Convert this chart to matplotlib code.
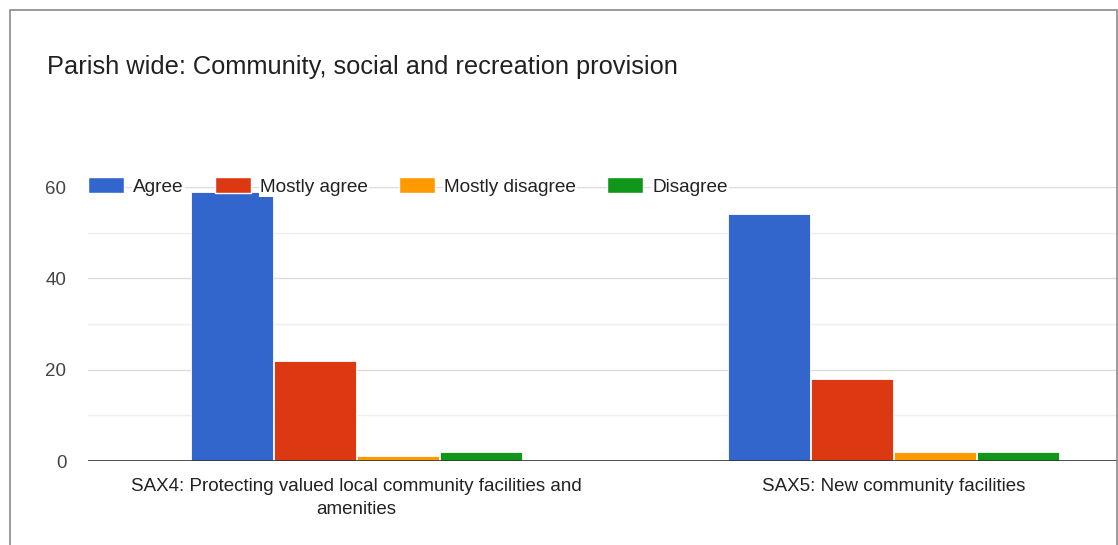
import matplotlib.pyplot as plt
from matplotlib.patches import Patch, Rectangle
from matplotlib.ticker import MultipleLocator

plt.rcParams['font.family'] = ['Liberation Sans', 'DejaVu Sans']

categories = ["SAX4: Protecting valued local community facilities and\namenities",
              "SAX5: New community facilities"]
series = ["Agree", "Mostly agree", "Mostly disagree", "Disagree"]
agree = [59, 54]
mostly_agree = [22, 18]
mostly_disagree = [1, 2]
disagree = [2, 2]
colors = ["#3366cc", "#dc3912", "#ff9900", "#109618"]

W, H = 1118, 545
fig = plt.figure(figsize=(W / 100, H / 100), dpi=100)

# card outline around the chart
fig.patches.append(Rectangle((10 / W, -0.05), 1107 / W, 1 - 10 / H + 0.05,
                             transform=fig.transFigure, fill=False,
                             edgecolor="#8a8a8a", linewidth=1.2))

fig.text(47 / W, 1 - 67 / H, "Parish wide: Community, social and recreation provision",
         fontsize=18.3, color="#202124", va="center", ha="left")

ax = fig.add_axes([88 / W, 84 / H, 1074 / W, 274 / H])
ax.set_xlim(-0.5, 1.5)
ax.set_ylim(0, 60)

values = [agree, mostly_agree, mostly_disagree, disagree]
step = 0.1546
bw = 0.153
x = range(len(categories))
for i, (vals, col) in enumerate(zip(values, colors)):
    offs = (i - 1.5) * step
    ax.bar([xi + offs for xi in x], vals, width=bw, color=col,
           edgecolor="white", linewidth=0.6, zorder=3)

for s in ax.spines.values():
    s.set_visible(False)
ax.axhline(0, color="#333333", linewidth=1.2, zorder=4)

ax.yaxis.set_major_locator(MultipleLocator(20))
ax.yaxis.set_minor_locator(MultipleLocator(10))
ax.grid(axis="y", which="major", color="#dcdcdc", linewidth=1, zorder=0)
ax.grid(axis="y", which="minor", color="#efefef", linewidth=1, zorder=0)
ax.tick_params(axis="y", which="both", length=0, pad=15.5, labelsize=13.5, labelcolor="#444444")
ax.tick_params(axis="x", length=0, pad=12, labelsize=13.5, labelcolor="#222222")
ax.set_xticks(list(x))
ax.set_xticklabels(categories, linespacing=1.45)

handles = [Patch(facecolor=c, edgecolor="white", linewidth=1) for c in colors]
leg = ax.legend(handles, series, loc="center left", bbox_to_anchor=(0, 1.003),
                ncol=4, frameon=False, fontsize=13.7, handlelength=1.9,
                handleheight=0.95, handletextpad=0.47, columnspacing=1.64,
                borderpad=0, borderaxespad=0)
for t in leg.get_texts():
    t.set_color("#222222")
    t.set_bbox(dict(facecolor="white", edgecolor="none", pad=1))
leg.set_zorder(6)

fig.savefig("out.png", dpi=100)
